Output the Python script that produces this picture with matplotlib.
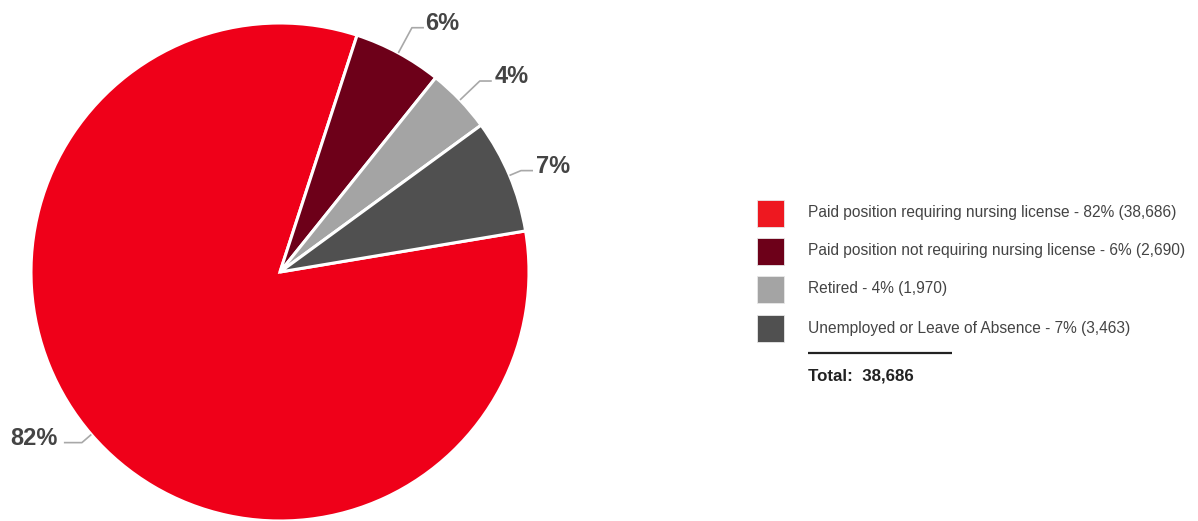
import numpy as np
import matplotlib
matplotlib.use("Agg")
import matplotlib.pyplot as plt
from matplotlib.patches import Rectangle

# Employment status of licensed nurses
categories = [
    "Paid position requiring nursing license",
    "Paid position not requiring nursing license",
    "Retired",
    "Unemployed or Leave of Absence",
]
counts = [38686, 2690, 1970, 3463]
pct_labels = ["82%", "6%", "4%", "7%"]
total_label = "38,686"

pie_colors = ["#EF0019", "#6D0019", "#A4A4A4", "#505050"]
legend_colors = ["#EE1820", "#6D0019", "#A4A4A4", "#505050"]

W, H = 1198, 521
fig = plt.figure(figsize=(W / 100, H / 100), dpi=100)
ax = fig.add_axes([0, 0, 1, 1])

font = "Liberation Sans"
cx, cy, R = 280, 249, 249

wedges, _ = ax.pie(
    counts,
    colors=pie_colors,
    startangle=9.5,
    counterclock=False,
    center=(cx, cy),
    radius=R,
    frame=True,
    wedgeprops=dict(edgecolor="white", linewidth=2.2),
)
ax.set_xlim(0, W)
ax.set_ylim(0, H)
ax.set_aspect("equal")
ax.set_axis_off()

# Percentage labels with elbow connectors
elbow_r = [1.05, 1.115, 1.11, 1.05]
h_len = [18, 12, 12, 12]
label_gap = [6, 1, 3, 3]
for w, lab, er, hl, gap in zip(wedges, pct_labels, elbow_r, h_len, label_gap):
    mid = np.deg2rad((w.theta1 + w.theta2) / 2)
    c, s = np.cos(mid), np.sin(mid)
    x0, y0 = cx + R * c, cy + R * s
    x1, y1 = cx + R * er * c, cy + R * er * s
    side = 1 if c >= 0 else -1
    x2 = x1 + side * hl
    ax.plot([x0, x1, x2], [y0, y1, y1], color="#A8A8A8", lw=1.2,
            clip_on=False, solid_capstyle="butt")
    ax.text(x2 + side * gap, y1 - 2, lab, ha="left" if side > 0 else "right",
            va="baseline", fontsize=17, fontweight="bold", color="#444444",
            family=font)

# Legend
lx, tx = 757, 808
row_y = [213, 251, 289, 328]
for name, cnt, pct, col, ry in zip(categories, counts, pct_labels, legend_colors, row_y):
    y = H - ry
    ax.add_patch(Rectangle((lx, y - 13.5), 27, 27, facecolor=col,
                           edgecolor="#E8E8E8", lw=0.6))
    ax.text(tx, y, f"{name} - {pct} ({cnt:,})", ha="left", va="center",
            fontsize=11.2, color="#444444", family=font)

ax.plot([tx, 952], [H - 353, H - 353], color="#222222", lw=1.6,
        solid_capstyle="butt")
ax.text(tx, H - 376, f"Total:  {total_label}", ha="left", va="center",
        fontsize=12.2, fontweight="bold", color="#222222", family=font)

fig.savefig("out.png", dpi=100)
